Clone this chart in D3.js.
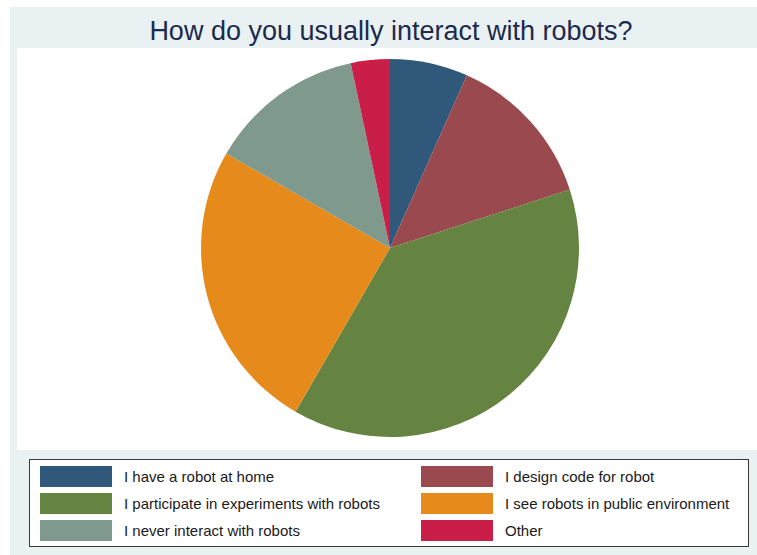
<!DOCTYPE html>
<html>
<head>
<meta charset="utf-8">
<script src="https://cdn.jsdelivr.net/npm/d3@7"></script>
<style>
  html, body { margin: 0; padding: 0; background: #ffffff; }
  svg { display: block; }
</style>
</head>
<body>
<svg id="chart" width="757" height="555"></svg>
<script>
// Survey responses: how respondents usually interact with robots
const categories = [
  "I have a robot at home",
  "I design code for robot",
  "I participate in experiments with robots",
  "I see robots in public environment",
  "I never interact with robots",
  "Other"
];
const counts = [4, 8, 23, 15, 8, 2];
const colors = ["#2f587b", "#9a4a4f", "#668441", "#e68b1b", "#7f998d", "#c81e48"];
const title = "How do you usually interact with robots?";

const svg = d3.select("#chart");
const W = 757, H = 555;

// outer graph region and inner plot region
svg.append("rect").attr("x", 10).attr("y", 7).attr("width", W - 10).attr("height", H - 7)
  .attr("fill", "#eaf1f3");
svg.append("rect").attr("x", 17).attr("y", 48).attr("width", W - 17).attr("height", 402)
  .attr("fill", "#ffffff");

svg.append("text")
  .attr("x", 391).attr("y", 40)
  .attr("text-anchor", "middle")
  .attr("font-family", "Liberation Sans, Arial, sans-serif")
  .attr("font-size", 27)
  .attr("fill", "#1c2a4e")
  .text(title);

// pie, clockwise from 12 o'clock in data order
const data = categories.map((c, i) => ({ label: c, value: counts[i], color: colors[i] }));
const pie = d3.pie().value(d => d.value).sort(null);
const arc = d3.arc().innerRadius(0).outerRadius(189);

svg.append("g")
  .attr("transform", "translate(390,248)")
  .selectAll("path")
  .data(pie(data))
  .join("path")
  .attr("d", arc)
  .attr("fill", d => d.data.color);

// legend
const legend = svg.append("g");
legend.append("rect")
  .attr("x", 29.5).attr("y", 459.5).attr("width", 719).attr("height", 87)
  .attr("fill", "#ffffff").attr("stroke", "#3a3a3a").attr("stroke-width", 1);

const colX = [40, 421];
const rowY = [466, 493, 520];
const items = legend.selectAll("g.item")
  .data(data)
  .join("g")
  .attr("class", "item")
  .attr("transform", (d, i) => `translate(${colX[i % 2]},${rowY[Math.floor(i / 2)]})`);

items.append("rect")
  .attr("width", 72).attr("height", 21)
  .attr("fill", d => d.color);

items.append("text")
  .attr("x", 84).attr("y", 16)
  .attr("font-family", "Liberation Sans, Arial, sans-serif")
  .attr("font-size", 15)
  .attr("fill", "#1a1a1a")
  .text(d => d.label);
</script>
</body>
</html>
